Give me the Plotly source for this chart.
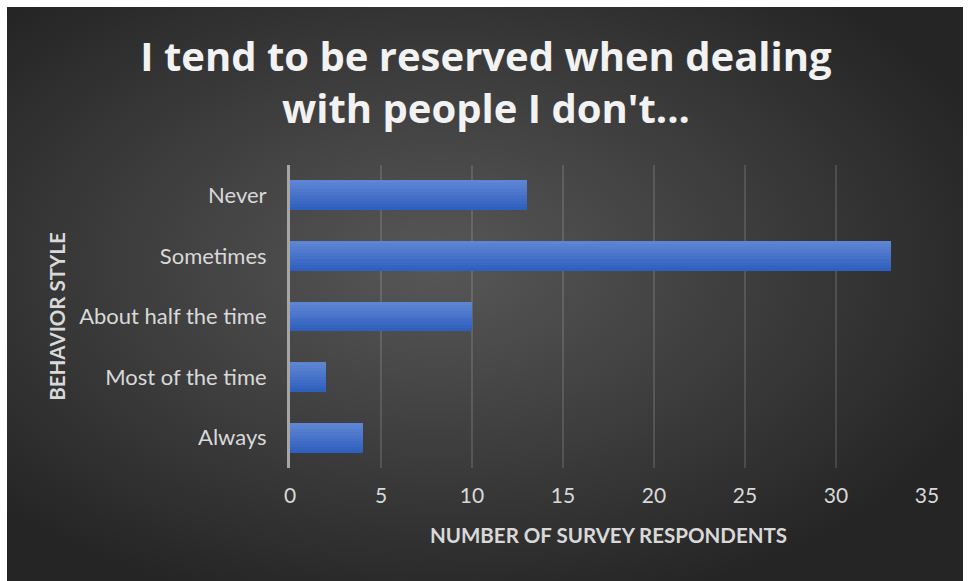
import base64
import plotly.graph_objects as go

# Survey responses
categories = ["Never", "Sometimes", "About half the time", "Most of the time", "Always"]
respondents = [13, 33, 10, 2, 4]
x_ticks = [0, 5, 10, 15, 20, 25, 30, 35]

title_text = "I tend to be reserved when dealing<br>with people I don't..."
x_title = "NUMBER OF SURVEY RESPONDENTS"
y_title = "BEHAVIOR STYLE"

W, H = 969, 581
L, R, T, B = 290, 42, 165, 113
plot_w = W - L - R
plot_h = H - T - B

# Radial-gradient backdrop as an inline SVG
svg = f"""<svg xmlns='http://www.w3.org/2000/svg' width='{W-7}' height='{H-7}' viewBox='0 0 {W-7} {H-7}' preserveAspectRatio='none'>
<defs><radialGradient id='g' cx='0.45' cy='0.45' r='0.62' gradientUnits='objectBoundingBox'>
<stop offset='0' stop-color='#575757'/><stop offset='0.55' stop-color='#3c3c3c'/><stop offset='1' stop-color='#252525'/>
</radialGradient></defs>
<rect width='100%' height='100%' fill='url(#g)'/></svg>"""
bg_src = "data:image/svg+xml;base64," + base64.b64encode(svg.encode()).decode()

fig = go.Figure()

# Bars drawn as horizontal stripes to give a top-to-bottom shading
bar_w = 0.49
n_strips = 10
top_rgb = (94, 133, 211)
bot_rgb = (48, 96, 190)
for i in range(n_strips):
    t = i / (n_strips - 1)
    rgb = tuple(round(a + (b - a) * t) for a, b in zip(top_rgb, bot_rgb))
    fig.add_trace(go.Bar(
        y=categories, x=respondents, orientation="h",
        width=bar_w / n_strips + 0.002,
        offset=-bar_w / 2 + i * bar_w / n_strips,
        marker=dict(color="rgb(%d,%d,%d)" % rgb, line=dict(width=0)),
        showlegend=False, hoverinfo="x+y",
    ))

fig.add_layout_image(dict(
    source=bg_src, xref="paper", yref="paper",
    x=(7 - L) / plot_w, y=1 + (T - 7) / plot_h,
    sizex=(W - 7 - 6) / plot_w, sizey=(H - 7) / plot_h,
    xanchor="left", yanchor="top", sizing="stretch", layer="below",
))

label_font = dict(family="Lato, Open Sans, sans-serif", size=22, color="#d9d9d9")
axis_title_font = dict(family="Lato, Open Sans, sans-serif", size=20.5, color="#d9d9d9", weight="bold")

fig.update_layout(
    width=W, height=H,
    margin=dict(l=L, r=R, t=T, b=B, pad=0),
    paper_bgcolor="white", plot_bgcolor="rgba(0,0,0,0)",
    barmode="overlay", bargap=0,
    title=dict(
        text=title_text, x=486 / W, xref="container", xanchor="center",
        y=1 - 71 / H, yanchor="middle",
        font=dict(family="Open Sans, sans-serif", size=40, color="#f2f2f2", weight="bold"),
    ),
    xaxis=dict(
        range=[0, 35], tickvals=x_ticks, ticktext=[str(v) for v in x_ticks],
        showgrid=True, gridcolor="rgba(255,255,255,0.13)", gridwidth=2,
        zeroline=False, showline=False, ticks="", ticklabelstandoff=13,
        tickfont=dict(label_font, size=21),
        title=dict(text=x_title, standoff=22, font=axis_title_font),
    ),
    yaxis=dict(
        categoryorder="array", categoryarray=categories, autorange="reversed",
        showgrid=False, zeroline=False, showline=True, linecolor="#a6a6a6", linewidth=3,
        ticks="", ticklabelstandoff=16, tickfont=label_font,
        title=dict(text=y_title, standoff=8, font=axis_title_font),
    ),
)

fig.write_html("out.html")
